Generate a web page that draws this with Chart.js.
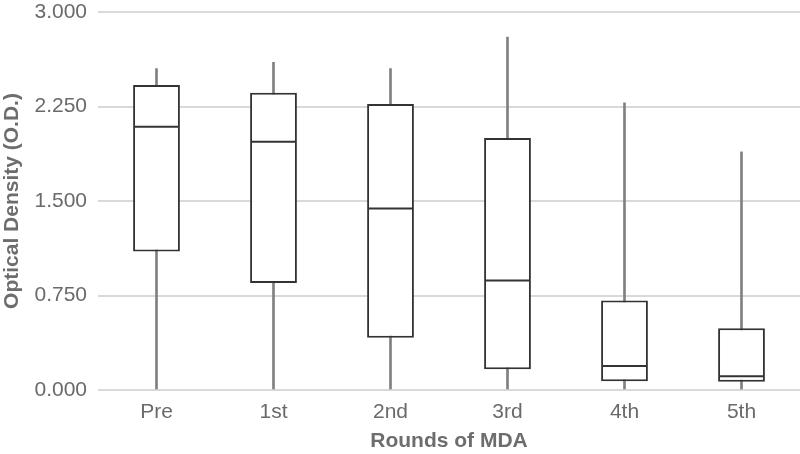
<!DOCTYPE html>
<html>
<head>
<meta charset="utf-8">
<script src="https://cdn.jsdelivr.net/npm/chart.js@4"></script>
<style>
	html, body { margin: 0; padding: 0; background: #fff; }
	#wrap { width: 800px; height: 454px; }
</style>
</head>
<body>
<div id="wrap"><canvas id="myChart"></canvas></div>
<script>
// box plot values
const categories = ['Pre', '1st', '2nd', '3rd', '4th', '5th']
const minVals = [0, 0, 0, 0, 0, 0]
const q1Vals = [1.10, 0.85, 0.415, 0.165, 0.07, 0.065]
const medianVals = [2.09, 1.97, 1.44, 0.87, 0.19, 0.11]
const q3Vals = [2.42, 2.36, 2.27, 2.00, 0.71, 0.49]
const maxVals = [2.55, 2.60, 2.55, 2.80, 2.28, 1.89]
const yTicks = [0, 0.75, 1.5, 2.25, 3]

const whiskers = categories.map((c, i) => [minVals[i], maxVals[i]])
const boxes = categories.map((c, i) => [q1Vals[i], q3Vals[i]])

const fontName = '"Liberation Sans", Arial, Helvetica, sans-serif'

const ctx = document.getElementById('myChart')
new Chart(ctx.getContext('2d'), {
	type: 'bar',
	data: {
		labels: categories,
		datasets: [
			{
				// median marks
				type: 'line',
				data: medianVals,
				showLine: false,
				pointStyle: 'line',
				pointRadius: 22.5,
				pointHoverRadius: 22.5,
				pointBorderWidth: 2,
				pointBorderColor: '#333333',
				order: 0,
			},
			{
				// boxes q1..q3
				data: boxes,
				grouped: false,
				backgroundColor: '#ffffff',
				borderColor: '#333333',
				borderWidth: 2,
				borderSkipped: false,
				categoryPercentage: 1,
				barPercentage: 0.4,
				order: 1,
			},
			{
				// whiskers min..max
				data: whiskers,
				grouped: false,
				backgroundColor: '#808080',
				barThickness: 2,
				order: 2,
			},
		],
	},
	options: {
		responsive: true,
		maintainAspectRatio: false,
		animation: false,
		layout: { autoPadding: false, padding: { top: 12, right: 0, left: 0, bottom: 0 } },
		plugins: {
			legend: { display: false },
			tooltip: { enabled: false },
		},
		scales: {
			x: {
				offset: true,
				grid: { display: false, drawTicks: false },
				border: { display: false },
				ticks: {
					color: '#6a6a6a',
					padding: 10,
					font: { family: fontName, size: 21 },
				},
				title: {
					display: true,
					text: 'Rounds of MDA',
					color: '#6d6d6d',
					padding: { top: 0, bottom: 0 },
					font: { family: fontName, size: 21, weight: 'bold' },
				},
				afterFit: (scale) => {
					scale.height = 64
					scale.paddingLeft = 0
					scale.paddingRight = 0
				},
			},
			y: {
				min: 0,
				max: 3,
				afterBuildTicks: (scale) => {
					scale.ticks = yTicks.map(v => ({ value: v }))
				},
				grid: { color: '#d9d9d9', lineWidth: 2, drawTicks: false },
				border: { display: false },
				ticks: {
					color: '#6a6a6a',
					padding: 11,
					font: { family: fontName, size: 21 },
					callback: (v) => Number(v).toFixed(3),
				},
				title: {
					display: true,
					text: 'Optical Density (O.D.)',
					color: '#6d6d6d',
					padding: { top: 0, bottom: 0 },
					font: { family: fontName, size: 21, weight: 'bold' },
				},
				afterFit: (scale) => {
					scale.width = 98
					scale.paddingTop = 0
					scale.paddingBottom = 0
				},
			},
		},
	},
})
</script>
</body>
</html>
